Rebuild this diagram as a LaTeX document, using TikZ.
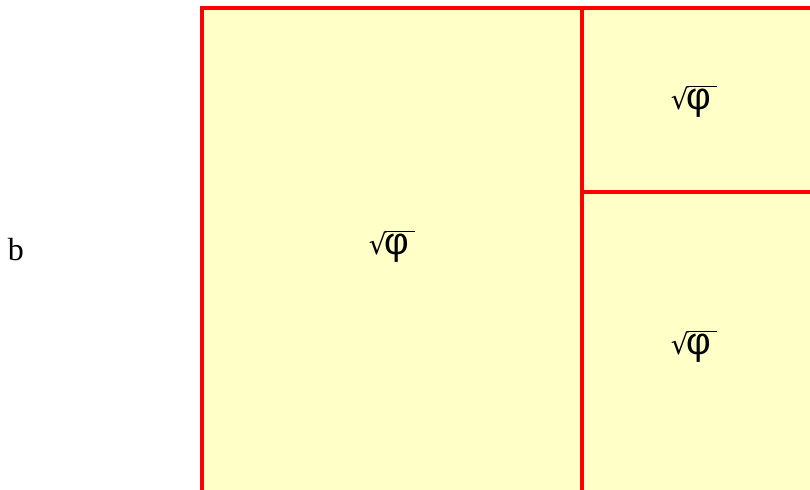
\documentclass[tikz,border=0pt]{standalone}
\usepackage{fontspec}
\setmainfont{Liberation Serif}
\newfontfamily\symfont{DejaVu Sans}
\newfontfamily\greekfont{Liberation Sans}
\usetikzlibrary{positioning}
\definecolor{cellfill}{HTML}{FFFFC8}
\definecolor{cellline}{HTML}{FF0000}
\newcommand{\sqphi}{{\symfont\fontsize{14}{14}\selectfont √}\kern-1pt$\overline{\hbox{\greekfont\fontsize{19}{19}\selectfont φ\kern3pt}}$}
\begin{document}
\begin{tikzpicture}[x=0.5pt, y=-0.5pt, cellbox/.style={draw=cellline, fill=cellfill, line width=2pt}, lbl/.style={inner sep=0pt}]
        \useasboundingbox (0,0) rectangle (810,489);
        \clip (0,0) rectangle (810,489);
        \draw[cellbox] (202,8) rectangle (582,520);
        \draw[cellbox] (582,8) rectangle (840,192);
        \draw[cellbox] (582,192) rectangle (840,520);
        \node[lbl] (big) at (392,246) {\sqphi};
        \node[lbl] (top) at (694,101) {\sqphi};
        \node[lbl] (low) at (694,346) {\sqphi};
        \node[lbl, font=\fontsize{16}{16}\selectfont] (side) at (16,250) {b};
      \end{tikzpicture}
\end{document}
